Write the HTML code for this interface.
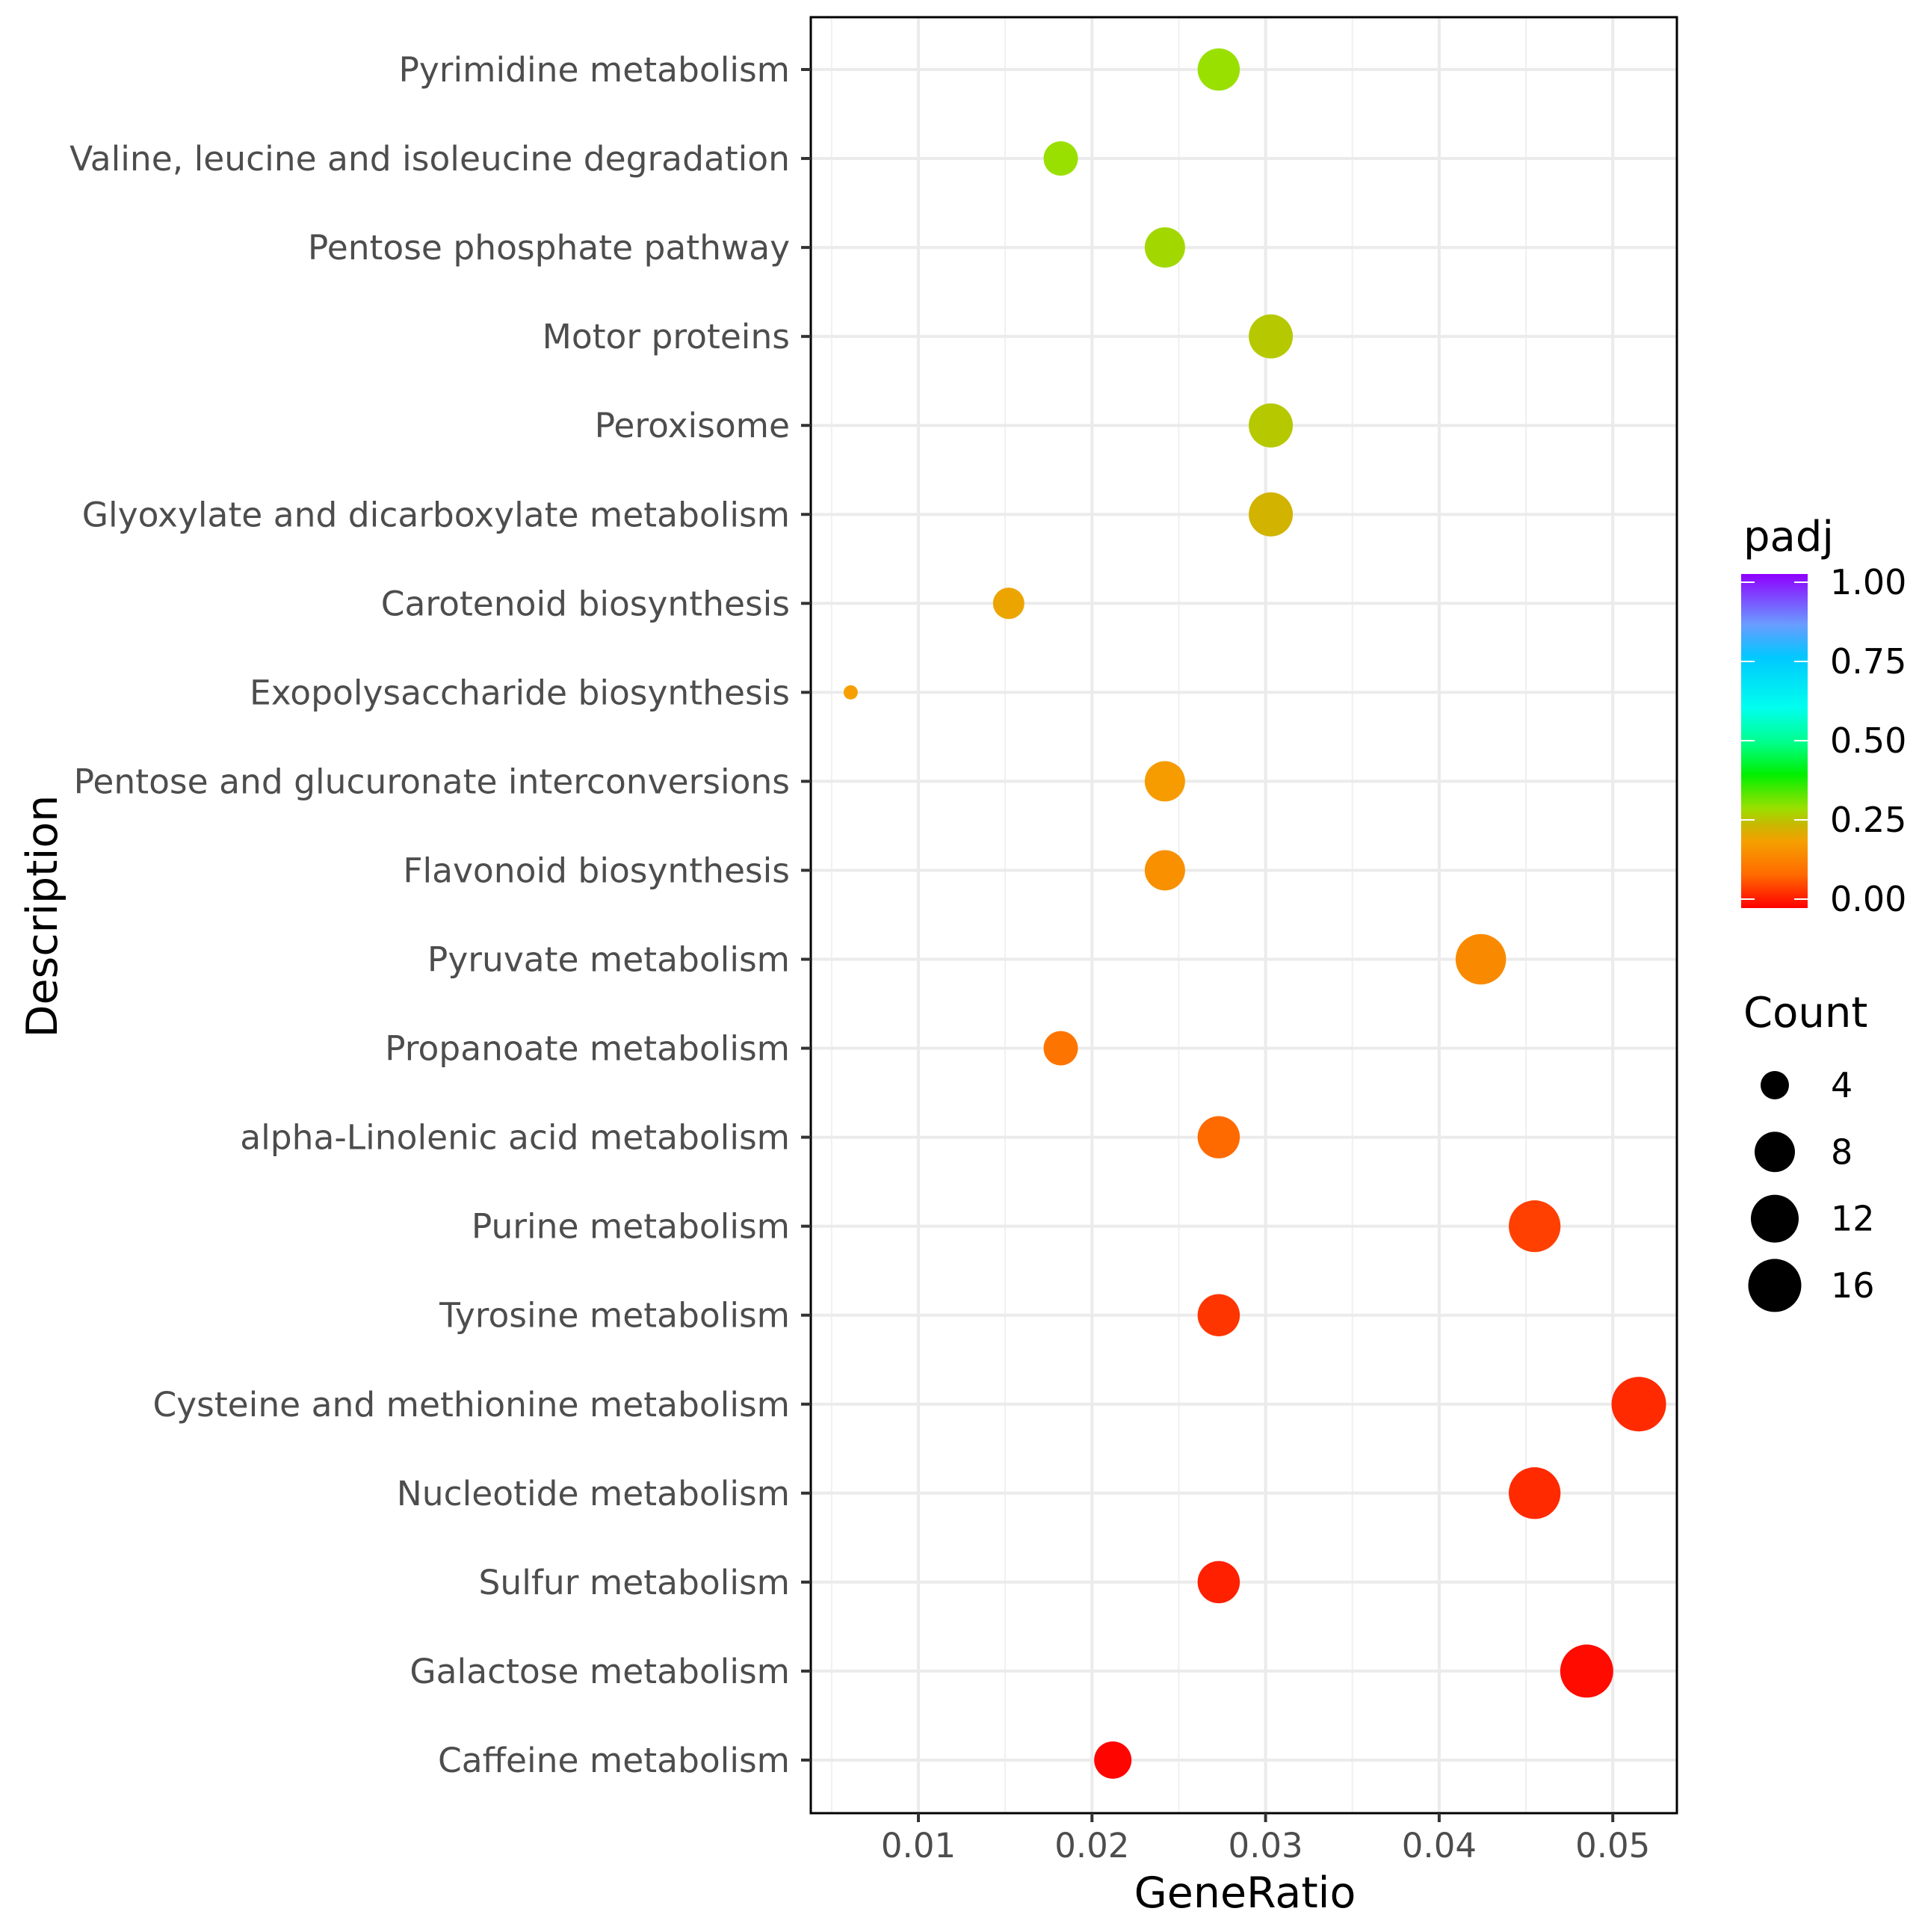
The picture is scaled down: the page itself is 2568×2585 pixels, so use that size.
<!DOCTYPE html>
<html><head><meta charset="utf-8"><style>
html,body{margin:0;padding:0;background:#fff;}
svg text{font-family:"DejaVu Sans","Liberation Sans",sans-serif;}
</style></head><body>
<svg id="chart" width="2568" height="2580" viewBox="0 0 2568 2580" xmlns="http://www.w3.org/2000/svg">
<defs>
<linearGradient id="cbar" x1="0" y1="1" x2="0" y2="0">
<stop offset="0" stop-color="#ff0000"/><stop offset="0.1" stop-color="#ff6a00"/><stop offset="0.2" stop-color="#f5a000"/><stop offset="0.25" stop-color="#c8b800"/><stop offset="0.3" stop-color="#99e000"/><stop offset="0.4" stop-color="#00f000"/><stop offset="0.5" stop-color="#00ff90"/><stop offset="0.6" stop-color="#00ffee"/><stop offset="0.75" stop-color="#00c8ff"/><stop offset="0.85" stop-color="#6a9cff"/><stop offset="1" stop-color="#8f00ff"/>
</linearGradient>
</defs>
<g id="grid"></g>
<g id="marks"></g>
<rect x="1085" y="23" width="1159" height="2403" fill="none" stroke="#000" stroke-width="3"/>
<g id="yaxis"></g>
<g id="xaxis"></g>
<text x="1666" y="2552" font-size="57" text-anchor="middle" fill="#000">GeneRatio</text>
<text transform="translate(76,1226) rotate(-90)" font-size="57" text-anchor="middle" fill="#000">Description</text>
<g id="legend">
<text x="2333" y="737" font-size="56" fill="#000">padj</text>
<rect x="2330" y="768" width="89" height="447" fill="url(#cbar)"/>
<g id="cticks"></g>
<text x="2333" y="1374" font-size="56" fill="#000">Count</text>
<g id="skeys"></g>
</g>
</svg>
<script>
const categories=["Pyrimidine metabolism","Valine, leucine and isoleucine degradation","Pentose phosphate pathway","Motor proteins","Peroxisome","Glyoxylate and dicarboxylate metabolism","Carotenoid biosynthesis","Exopolysaccharide biosynthesis","Pentose and glucuronate interconversions","Flavonoid biosynthesis","Pyruvate metabolism","Propanoate metabolism","alpha-Linolenic acid metabolism","Purine metabolism","Tyrosine metabolism","Cysteine and methionine metabolism","Nucleotide metabolism","Sulfur metabolism","Galactose metabolism","Caffeine metabolism"];
const geneRatio=[0.0273,0.0182,0.0242,0.0303,0.0303,0.0303,0.0152,0.0061,0.0242,0.0242,0.0424,0.0182,0.0273,0.0455,0.0273,0.0515,0.0455,0.0273,0.0485,0.0212];
const counts=[9,6,8,10,10,10,5,2,8,8,14,6,9,15,9,17,15,9,16,7];
const padj=[0.30,0.30,0.29,0.27,0.27,0.24,0.21,0.20,0.19,0.17,0.16,0.12,0.10,0.06,0.05,0.04,0.04,0.03,0.01,0.005];
const xTicks=[0.01,0.02,0.03,0.04,0.05];
const xTickLabels=["0.01","0.02","0.03","0.04","0.05"];
const xMinor=[0.005,0.015,0.025,0.035,0.045];
const colorTicks=[0,0.25,0.5,0.75,1];
const colorTickLabels=["0.00","0.25","0.50","0.75","1.00"];
const sizeKeys=[4,8,12,16];

const NS="http://www.w3.org/2000/svg";
const PL=1085,PR=2244,PT=23,PB=2426;
function xs(v){return 1229+(v-0.01)*23230;}
function ys(i){return 93+i*119.05;}
function rs(c){const k=[[1,6],[2,9.5],[4,19],[8,27],[12,32],[16,35.5],[17,36.5],[30,46]];
 for(let j=0;j<k.length-1;j++){if(c<=k[j+1][0]){const t=(c-k[j][0])/(k[j+1][0]-k[j][0]);return k[j][1]+t*(k[j+1][1]-k[j][1]);}}return 46;}
const stops=[[0,[255,0,0]],[0.1,[255,106,0]],[0.2,[245,160,0]],[0.25,[200,184,0]],[0.3,[153,224,0]],[0.4,[0,240,0]],[0.5,[0,255,144]],[0.6,[0,255,238]],[0.75,[0,200,255]],[0.85,[106,156,255]],[1,[143,0,255]]];
function col(v){for(let j=0;j<stops.length-1;j++){if(v<=stops[j+1][0]){const t=(v-stops[j][0])/(stops[j+1][0]-stops[j][0]);const a=stops[j][1],b=stops[j+1][1];return "rgb("+a.map((x,q)=>Math.round(x+t*(b[q]-x))).join(",")+")";}}return "rgb(143,0,255)";}
function mk(tag,attrs,parent){const e=document.createElementNS(NS,tag);for(const k in attrs)e.setAttribute(k,attrs[k]);parent.appendChild(e);return e;}
const grid=document.getElementById('grid'),marks=document.getElementById('marks'),ya=document.getElementById('yaxis'),xa=document.getElementById('xaxis');
xMinor.forEach(v=>{const l=mk('line',{x1:xs(v),x2:xs(v),y1:PT,y2:PB,stroke:'#f0f0f0','stroke-width':2},grid);

});
xTicks.forEach((v,i)=>{const l=mk('line',{x1:xs(v),x2:xs(v),y1:PT,y2:PB,stroke:'#ebebeb','stroke-width':4},grid);


const t=mk('line',{x1:xs(v),x2:xs(v),y1:PB,y2:PB+12,stroke:'#333','stroke-width':4},xa);


const tx=mk('text',{x:xs(v),y:PB+59,'font-size':45,'text-anchor':'middle',fill:'#4d4d4d'},xa);tx.textContent=xTickLabels[i];

});
categories.forEach((c,i)=>{const y=ys(i);
const l=mk('line',{x1:PL,x2:PR,y1:y,y2:y,stroke:'#ebebeb','stroke-width':4},grid);


const t=mk('line',{x1:PL-13,x2:PL,y1:y,y2:y,stroke:'#333','stroke-width':4},ya);


const tx=mk('text',{x:1057,y:y+16,'font-size':45.5,'text-anchor':'end',fill:'#4d4d4d'},ya);tx.textContent=c;

});
categories.forEach((c,i)=>{const p=mk('circle',{cx:xs(geneRatio[i]),cy:ys(i),r:rs(counts[i]),fill:col(padj[i])},marks);

});
const ct=document.getElementById('cticks');
colorTicks.forEach((v,i)=>{const y=1203-v*424;
const a=mk('line',{x1:2330,x2:2348,y1:y,y2:y,stroke:'#fff','stroke-width':2},ct);


const b=mk('line',{x1:2401,x2:2419,y1:y,y2:y,stroke:'#fff','stroke-width':2},ct);


const tx=mk('text',{x:2449,y:y+16,'font-size':46,fill:'#000'},ct);tx.textContent=colorTickLabels[i];

});
const sk=document.getElementById('skeys');
sizeKeys.forEach((c,i)=>{const y=1452+i*89.3;
const p=mk('circle',{cx:2375,cy:y,r:rs(c),fill:'#000'},sk);


const tx=mk('text',{x:2450,y:y+16,'font-size':46,fill:'#000'},sk);tx.textContent=String(c);

});
</script>
</body></html>
